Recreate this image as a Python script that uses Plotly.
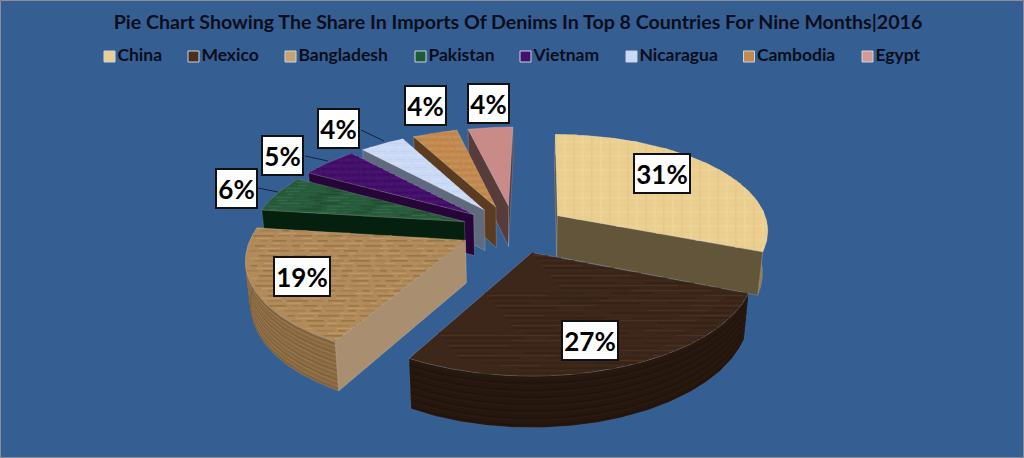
import math
import plotly.graph_objects as go

TITLE = "Pie Chart Showing The Share In Imports Of Denims In Top 8 Countries For Nine Months|2016"
countries = ["China", "Mexico", "Bangladesh", "Pakistan", "Vietnam", "Nicaragua", "Cambodia", "Egypt"]
shares = [31, 27, 19, 6, 5, 4, 4, 4]

top_colors = ["#EBCF90", "#3D271A", "#B08A5A", "#27593A", "#44106A", "#CAD9F5", "#C28A50", "#C98B88"]
cut_colors = ["#62553A", "#2A1A10", "#A98F70", "#05200E", "#270538", "#5F6A7E", "#5B3C20", "#583B3B"]
rim_colors = ["#8F7D55", "#25160E", "#8A6A42", "#05200E", "#270538", "#5F6A7E", "#5B3C20", "#583B3B"]
legend_colors = ["#EBCF90", "#4A2F1E", "#C9A070", "#1F5A35", "#44106A", "#CAD9F5", "#C28A50", "#D49A98"]

BG = "#355F92"
INK = "#0A0E1C"
FONT = "Lato"

# projection of the tilted disc onto the page
CX, CY, SX, SY, K, DEPTH, PULL, SHEAR = 514, 229, 212, 97, 0.15, 42, 0.25, 3.5


def project(x, y, z=0.0):
    d = 1 + K * y
    px = CX + (SX * x / d + SHEAR * y) * (1 - 0.02 * z)
    py = CY - SY * y / d + DEPTH * z / d
    return px, py


def poly_trace(pts, color, edge="rgba(255,255,255,0.28)", ew=0.6):
    xs = [p[0] for p in pts] + [pts[0][0]]
    ys = [p[1] for p in pts] + [pts[0][1]]
    return go.Scatter(x=xs, y=ys, mode="lines", fill="toself", fillcolor=color,
                      line=dict(color=edge, width=ew), hoverinfo="skip", showlegend=False)


def crossings(pts, v, axis):
    out = []
    n = len(pts)
    other = 1 - axis
    for i in range(n):
        a, b = pts[i], pts[(i + 1) % n]
        if (a[axis] <= v < b[axis]) or (b[axis] <= v < a[axis]):
            t = (v - a[axis]) / (b[axis] - a[axis])
            out.append(a[other] + t * (b[other] - a[other]))
    return sorted(out)


def strokes(pts, spacing, shades, axis=1, dash=None, width=1.0):
    """Decorative grain: thin strokes clipped to a face."""
    buckets = {s: ([], []) for s in shades}
    vals = [p[axis] for p in pts]
    v = min(vals) + 0.5
    i = 0
    while v < max(vals):
        cr = crossings(pts, v, axis)
        for a, b in zip(cr[0::2], cr[1::2]):
            if dash is None:
                segs = [(a, b)]
            else:
                segs, s, j = [], a + (i * 5) % dash, 0
                while s < b:
                    L = dash * (0.5 + ((i * 3 + j * 7) % 5) * 0.25)
                    segs.append((s, min(s + L, b)))
                    s += L + dash * 0.35
                    j += 1
            for j, (s, e) in enumerate(segs):
                c = shades[(i * 3 + j * 2) % len(shades)]
                xs, ys = buckets[c]
                if axis == 1:
                    xs += [s, e, None]
                    ys += [v, v, None]
                else:
                    xs += [v, v, None]
                    ys += [s, e, None]
        v += spacing
        i += 1
    return [go.Scatter(x=bx, y=by, mode="lines", line=dict(color=c, width=width),
                       hoverinfo="skip", showlegend=False, connectgaps=False)
            for c, (bx, by) in buckets.items() if bx]


def side(apex, tip, p):
    return (tip[0] - apex[0]) * (p[1] - apex[1]) - (tip[1] - apex[1]) * (p[0] - apex[0])


total = sum(shares)
slices = []
acc = 0.0
for i, v in enumerate(shares):
    a0 = acc / total * 2 * math.pi
    acc += v
    a1 = acc / total * 2 * math.pi
    mid = (a0 + a1) / 2
    ox, oy = PULL * math.sin(mid), PULL * math.cos(mid)
    steps = max(16, int(v * 4))
    world = [(ox + math.sin(a0 + (a1 - a0) * s / steps), oy + math.cos(a0 + (a1 - a0) * s / steps))
             for s in range(steps + 1)]
    slices.append(dict(i=i, ox=ox, oy=oy, world=world))

fig = go.Figure()
for sl in sorted(slices, key=lambda s: -s["oy"]):
    i, ox, oy, world = sl["i"], sl["ox"], sl["oy"], sl["world"]
    apex = project(ox, oy)
    arc_mid = project(*world[len(world) // 2])
    # outer wall
    wall = [project(*w) for w in world] + [project(*w, 1) for w in reversed(world)]
    fig.add_trace(poly_trace(wall, rim_colors[i], edge="rgba(255,255,255,0.10)"))
    if i in (1, 2):
        shades = ["#20130C", "#2C1B11", "#261710"] if i == 1 else ["#93734A", "#7D5E38", "#9A7A50", "#86663E"]
        for zi in range(1, 22):
            z = zi / 22
            line = [project(*w, z) for w in world]
            fig.add_trace(go.Scatter(x=[p[0] for p in line], y=[p[1] for p in line], mode="lines",
                                     line=dict(color=shades[zi % len(shades)], width=1),
                                     hoverinfo="skip", showlegend=False))
    # cut faces that look towards the viewer
    for end in (world[0], world[-1]):
        tip = project(*end)
        below = (apex[0], apex[1] + 1)
        if side(apex, tip, arc_mid) * side(apex, tip, below) < 0:
            fig.add_trace(poly_trace([apex, tip, project(*end, 1), project(ox, oy, 1)], cut_colors[i]))
    # top face
    top = [apex] + [project(*w) for w in world]
    fig.add_trace(poly_trace(top, top_colors[i]))
    if i == 0:
        fig.add_traces(strokes(top, 7, ["#E7CB8C", "#EFD59B"], axis=1, width=1))
        fig.add_traces(strokes(top, 9, ["#E3C686", "#F0D79E"], axis=0, width=1))
    elif i == 1:
        fig.add_traces(strokes(top, 2.5, ["#372216", "#412B1E", "#322015", "#4C3526"],
                               axis=1, dash=80, width=1))
    elif i == 2:
        fig.add_traces(strokes(top, 2.5, ["#C29A68", "#8E6A3E", "#B58E5C", "#A07A4C"],
                               axis=1, dash=14, width=1.1))
    elif i == 3:
        fig.add_traces(strokes(top, 3, ["#33694A", "#1F4D2D", "#2B6040"], axis=1, dash=14, width=1.5))
    elif i == 4:
        fig.add_traces(strokes(top, 3, ["#4F1A78", "#3A0C5C"], axis=1, dash=6, width=1))
    elif i == 5:
        fig.add_traces(strokes(top, 4, ["#D6E1F8", "#C2D2F3"], axis=1, dash=10, width=1))
    elif i == 6:
        fig.add_traces(strokes(top, 3, ["#CA955C", "#B88046"], axis=1, dash=5, width=1))

# legend row
legend_marker_x = [109.5, 193.5, 290.5, 420.5, 525.5, 631.5, 749, 867.5]
for name, color, lx in zip(countries, legend_colors, legend_marker_x):
    fig.add_trace(go.Scatter(x=[lx], y=[56.5], mode="markers+text", name=name,
                             marker=dict(symbol="square", size=11, color=color,
                                         line=dict(color="#C8D4E6", width=1)),
                             text=[name], textposition="middle right",
                             textfont=dict(family=FONT, size=17.5, color=INK, weight="bold"),
                             hoverinfo="skip", showlegend=False, cliponaxis=False))

# leader lines
leaders = [((258, 188), (278, 192)), ((305, 156), (328, 161)), ((361, 130), (384, 141))]
for (a, b) in leaders:
    fig.add_shape(type="line", x0=a[0], y0=a[1], x1=b[0], y1=b[1], xref="x", yref="y",
                  line=dict(color="#14233A", width=1))

# data labels
label_pos = [(662, 173), (590, 340), (302, 276), (236, 188), (282, 155), (338, 128), (425, 105), (488, 103)]
annotations = []
for v, (lx, ly) in zip(shares, label_pos):
    annotations.append(dict(x=lx, y=ly, xref="x", yref="y", text=f"{v}%", showarrow=False,
                            font=dict(family=FONT, size=26, color="#000000", weight="bold"),
                            bgcolor="#FFFFFF", bordercolor="#111111", borderwidth=2,
                            width=54 if v >= 10 else 39, height=37, borderpad=0,
                            xanchor="center", yanchor="middle", align="center", valign="middle"))

fig.update_layout(
    width=1024, height=458, autosize=False,
    margin=dict(l=0, r=0, t=0, b=0),
    paper_bgcolor=BG, plot_bgcolor=BG,
    showlegend=False,
    title=dict(text=TITLE, x=518 / 1024, y=1 - 22 / 458, xanchor="center", yanchor="middle",
               font=dict(family=FONT, size=19.6, color=INK, weight="bold")),
    xaxis=dict(range=[0, 1024], visible=False, fixedrange=True),
    yaxis=dict(range=[458, 0], visible=False, fixedrange=True),
    annotations=annotations,
)
fig.add_shape(type="rect", x0=0.5, y0=0.5, x1=1023.5, y1=457.5, xref="x", yref="y",
              line=dict(color="#8A8F96", width=1))

fig.write_html("out.html", config={"displayModeBar": False, "responsive": False},
               post_script="document.body.style.margin='0';document.body.style.overflow='hidden';")
